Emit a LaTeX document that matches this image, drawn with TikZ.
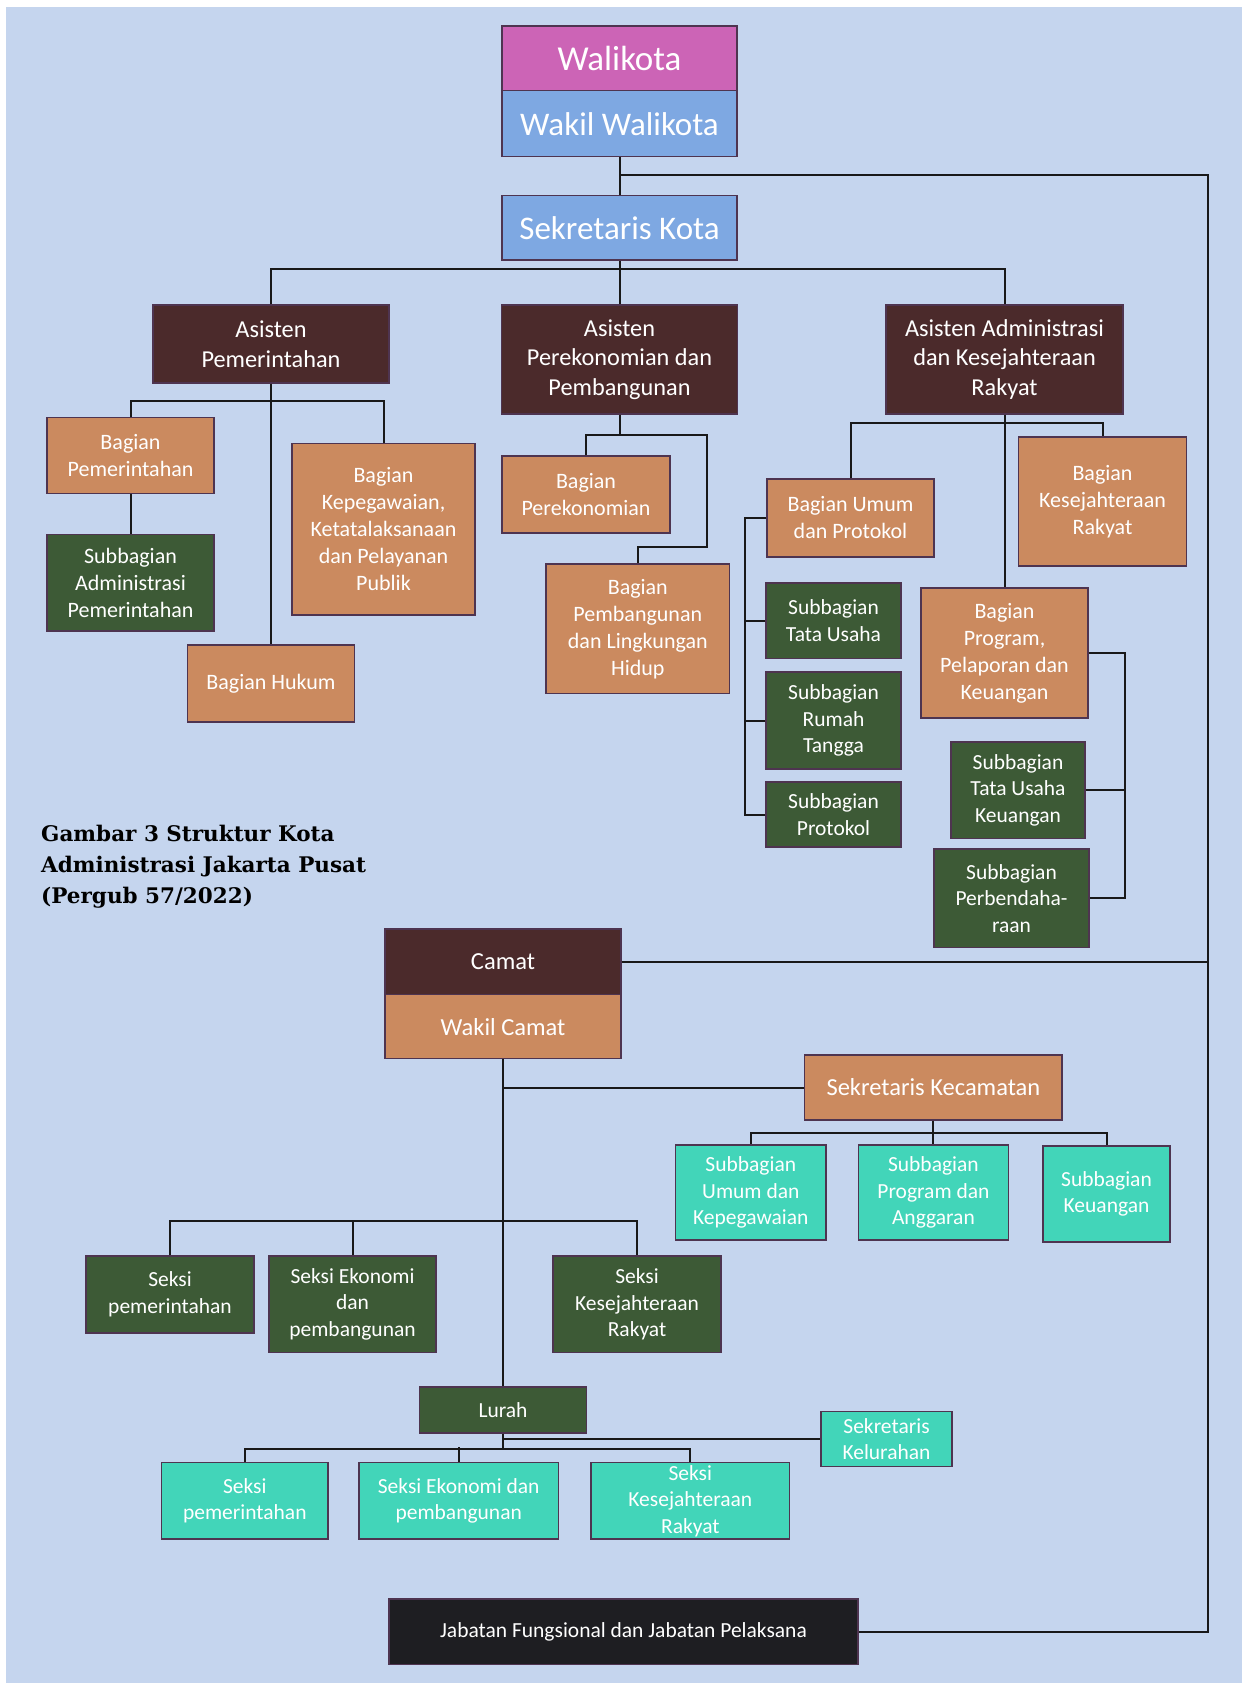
\documentclass[tikz,border=0pt]{standalone}
\usepackage{fontspec}
\setmainfont{Carlito}
\newfontfamily\judulfont{DejaVu Serif}
\usetikzlibrary{positioning}
\usetikzlibrary{calc}

\definecolor{latar}{HTML}{C5D5EE}
\definecolor{garis}{HTML}{4E3450}
\definecolor{magenta}{HTML}{CC64B6}
\definecolor{biru}{HTML}{7EA8E2}
\definecolor{marun}{HTML}{4B2A2B}
\definecolor{oranye}{HTML}{CB8A5F}
\definecolor{hijau}{HTML}{3D5A36}
\definecolor{tosca}{HTML}{42D5B9}
\definecolor{hitam}{HTML}{1E1E22}

\begin{document}
\begin{tikzpicture}[x=1pt, y=-1pt,
        kotak/.style={draw=garis, line width=1.4pt, text=white, align=center, inner sep=1pt},
        ukuran/.style 2 args={minimum width=#1, minimum height=#2},
        besar/.style={font=\fontsize{33}{38}\selectfont},
        asisten/.style={font=\fontsize{24.3}{29.5}\selectfont},
        sedang/.style={font=\fontsize{24.5}{30}\selectfont},
        biasa/.style={font=\fontsize{22}{27}\selectfont},
        kecil/.style={font=\fontsize{21.5}{26.5}\selectfont},
        hub/.style={draw=black!90, line width=2pt}]
    \useasboundingbox (0,0) rectangle (1242,1683);
    \fill[white] (0,0) rectangle (1242,1683);
    \fill[latar] (6,7) rectangle (1242,1683);

    % Kota
    \node[kotak, font=\fontsize{35}{40}\selectfont, fill=magenta, ukuran={235}{64.7}] (wali) at (619.5,58.3) {Walikota};
    \node[kotak, besar, fill=biru, ukuran={235}{66}] (wakil) at (619.5,123.7) {Wakil Walikota};
    \node[kotak, besar, fill=biru, ukuran={235}{64.3}] (sekkota) at (619.5,227.8) {Sekretaris Kota};

    \node[kotak, asisten, fill=marun, ukuran={236}{78}] (astpem) at (271,344) {Asisten\\Pemerintahan};
    \node[kotak, asisten, fill=marun, ukuran={236}{109}] (astmid) at (619.5,359.5) {Asisten\\Perekonomian dan\\Pembangunan};
    \node[kotak, asisten, fill=marun, ukuran={237}{109}] (astadm) at (1004.5,359.5) {Asisten Administrasi\\dan Kesejahteraan\\Rakyat};

    \node[kotak, biasa, fill=oranye, ukuran={167}{76}] (bagpem) at (130.5,455.5) {Bagian\\Pemerintahan};
    \node[kotak, biasa, fill=hijau, ukuran={167}{96.4}] (subadm) at (130.5,582.8) {Subbagian\\Administrasi\\Pemerintahan};
    \node[kotak, biasa, fill=oranye, ukuran={183}{171.4}] (bagkep) at (383.5,529.3) {Bagian\\Kepegawaian,\\Ketatalaksanaan\\dan Pelayanan\\Publik};
    \node[kotak, biasa, fill=oranye, ukuran={167}{77}] (baghuk) at (271,683.5) {Bagian Hukum};

    \node[kotak, biasa, fill=oranye, ukuran={168}{77}] (bageko) at (586,494.5) {Bagian\\Perekonomian};
    \node[kotak, biasa, fill=oranye, ukuran={183.5}{129.6}] (bagbang) at (637.8,628.8) {Bagian\\Pembangunan\\dan Lingkungan\\Hidup};

    \node[kotak, biasa, fill=oranye, ukuran={167}{78}] (bagumum) at (850.5,518) {Bagian Umum\\dan Protokol};
    \node[kotak, biasa, fill=oranye, ukuran={168}{129}] (bagkesra) at (1102.5,501.5) {Bagian\\Kesejahteraan\\Rakyat};
    \node[kotak, biasa, fill=oranye, ukuran={167}{130}] (bagprog) at (1004.5,653) {Bagian\\Program,\\Pelaporan dan\\Keuangan};
    \node[kotak, kecil, fill=hijau, ukuran={135}{75.6}] (subtu) at (833.5,620.8) {Subbagian\\Tata Usaha};
    \node[kotak, kecil, fill=hijau, ukuran={135}{97}] (subrt) at (833.5,720.5) {Subbagian\\Rumah\\Tangga};
    \node[kotak, kecil, fill=hijau, ukuran={135}{65}] (subprot) at (833.5,814.5) {Subbagian\\Protokol};
    \node[kotak, kecil, fill=hijau, ukuran={134}{96.8}] (subtuk) at (1018,790.2) {Subbagian\\Tata Usaha\\Keuangan};
    \node[kotak, kecil, fill=hijau, ukuran={155}{98.7}] (subbend) at (1011.5,898.4) {Subbagian\\Perbendaha-\\raan};

    \node[font=\judulfont\bfseries\fontsize{21.5}{31}\selectfont, align=left, anchor=west, inner sep=0] (judul) at (41,867)
        {Gambar 3 Struktur Kota\\Administrasi Jakarta Pusat\\(Pergub 57/2022)};

    % Kecamatan
    \node[kotak, sedang, fill=marun, ukuran={236}{65.7}] (camat) at (503,961.7) {Camat};
    \node[kotak, sedang, fill=oranye, ukuran={236}{64.2}] (wcamat) at (503,1026.6) {Wakil Camat};
    \node[kotak, sedang, fill=oranye, ukuran={257.3}{65}] (sekkec) at (933.4,1087.5) {Sekretaris Kecamatan};
    \node[kotak, kecil, fill=tosca, ukuran={150.4}{95.2}] (subumum) at (750.8,1192.4) {Subbagian\\Umum dan\\Kepegawaian};
    \node[kotak, kecil, fill=tosca, ukuran={150}{95.2}] (subprg) at (933.4,1192.4) {Subbagian\\Program dan\\Anggaran};
    \node[kotak, kecil, fill=tosca, ukuran={127}{96}] (subkeu) at (1106.5,1193.8) {Subbagian\\Keuangan};

    \node[kotak, kecil, fill=hijau, ukuran={168}{77}] (skpem) at (170,1294.5) {Seksi\\pemerintahan};
    \node[kotak, kecil, fill=hijau, ukuran={167}{96.6}] (skeko) at (352.5,1304.3) {Seksi Ekonomi\\dan\\pembangunan};
    \node[kotak, kecil, fill=hijau, ukuran={168}{96.6}] (skkesra) at (637,1304.3) {Seksi\\Kesejahteraan\\Rakyat};

    % Kelurahan
    \node[kotak, kecil, fill=hijau, ukuran={167}{46}] (lurah) at (503,1410) {Lurah};
    \node[kotak, kecil, fill=tosca, ukuran={131}{55}] (sekkel) at (886.5,1439) {Sekretaris\\Kelurahan};
    \node[kotak, kecil, fill=tosca, ukuran={166.4}{76.4}] (lkpem) at (244.8,1500.8) {Seksi\\pemerintahan};
    \node[kotak, kecil, fill=tosca, ukuran={199.4}{76.4}] (lkeko) at (458.7,1500.8) {Seksi Ekonomi dan\\pembangunan};
    \node[kotak, kecil, fill=tosca, ukuran={198.7}{76.4}, inner ysep=0pt] (lkkesra) at (690.3,1500.8) {Seksi\\Kesejahteraan\\Rakyat};

    \node[kotak, kecil, fill=hitam, ukuran={469}{65.5}] (jab) at (623.5,1631.7) {Jabatan Fungsional dan Jabatan Pelaksana};

    \coordinate (ka) at (1208,175);
    \coordinate (kiri) at (744.6,0);
    \coordinate (kanan) at (1125,0);
    \coordinate (bs) at (503,1221);

    \draw[hub] (wakil.south) -- (sekkota.north);
    \draw[hub] (wakil.south |- ka) -- (ka) |- (jab.east);
    \draw[hub] (camat.east) -- (camat.east -| ka);
    \draw[hub] (sekkota.south) -- (astmid.north);
    \draw[hub] (astpem.north) |- ($(sekkota.south)+(0,8)$) -| (astadm.north);

    \draw[hub] (astpem.south) -- (baghuk.north);
    \draw[hub] (bagpem.north) |- ($(astpem.south)+(0,17.7)$) -| (bagkep.north);
    \draw[hub] (bagpem.south) -- (subadm.north);

    \draw[hub] (astmid.south) -- ++(0,20.6);
    \draw[hub] (bageko.north) |- ($(astmid.south)+(87,20.6)$) |- ($(bagbang.north)+(0,-16)$) -- (bagbang.north);

    \draw[hub] (astadm.south) -- (bagprog.north);
    \draw[hub] (bagumum.north) |- ($(astadm.south)+(0,8)$) -| (bagkesra.north);
    \draw[hub] (bagumum.west) -- (bagumum.west -| kiri) |- (subprot.west);
    \draw[hub] (subtu.west) -- (subtu.west -| kiri);
    \draw[hub] (subrt.west) -- (subrt.west -| kiri);
    \draw[hub] (bagprog.east) -- (bagprog.east -| kanan) |- (subbend.east);
    \draw[hub] (subtuk.east) -- (subtuk.east -| kanan);

    \draw[hub] (wcamat.south) -- (lurah.north);
    \draw[hub] (wcamat.south |- sekkec.west) -- (sekkec.west);
    \draw[hub] (sekkec.south) -- (subprg.north);
    \draw[hub] (subumum.north) |- ($(sekkec.south)+(0,12)$) -| (subkeu.north);
    \draw[hub] (skpem.north) |- (bs) -| (skkesra.north);
    \draw[hub] (skeko.north) -- (skeko.north |- bs);

    \draw[hub] (lurah.south) -- ++(0,15);
    \draw[hub] (lkpem.north) |- ($(lurah.south)+(0,15)$) -| (lkkesra.north);
    \draw[hub] (lkeko.north) -- ++(0,-14.6);
    \draw[hub] (lurah.south |- sekkel.west) -- (sekkel.west);
\end{tikzpicture}
\end{document}
